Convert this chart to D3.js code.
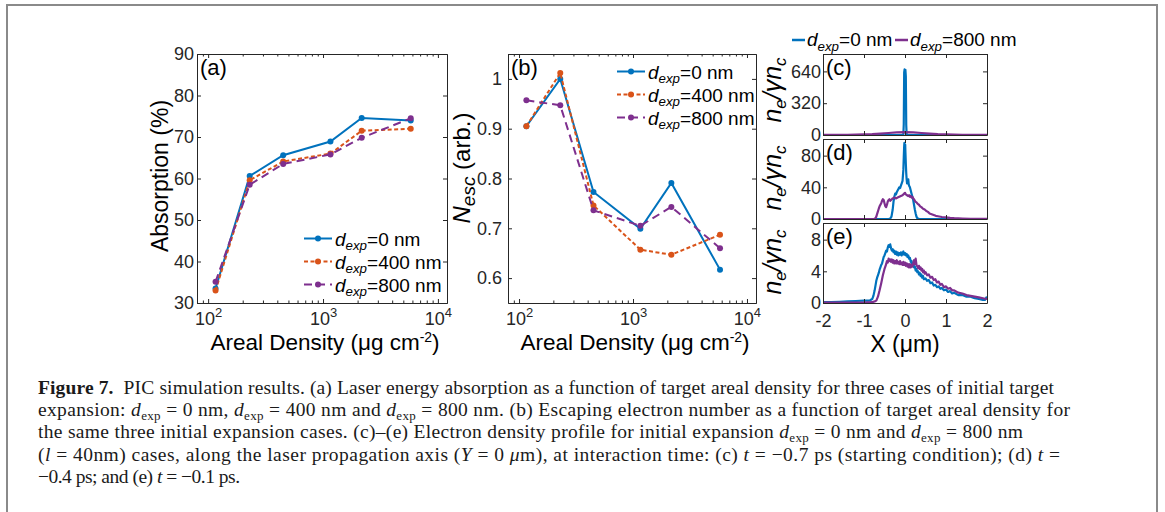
<!DOCTYPE html>
<html>
<head>
<meta charset="utf-8">
<script src="https://cdn.jsdelivr.net/npm/d3@7"></script>
<style>
  body { margin: 0; background: #fff; }
  svg { display: block; }
</style>
</head>
<body>
<svg id="fig" width="1165" height="512"></svg>
<script>
// values
const arealDensity = [116, 230, 450, 1160, 2170, 5800];
const absorption0 = [33.5, 60.6, 65.6, 68.9, 74.6, 74.0];
const absorption400 = [33.0, 59.6, 64.1, 66.0, 71.5, 72.0];
const absorption800 = [35.1, 58.5, 63.5, 65.8, 69.8, 74.5];
const nesc0 = [0.905, 1.0, 0.773, 0.699, 0.791, 0.617];
const nesc400 = [0.905, 1.012, 0.746, 0.657, 0.647, 0.687];
const nesc800 = [0.957, 0.947, 0.736, 0.705, 0.743, 0.660];
const caseNames = ['0', '400', '800'];
const caseColors = ['#0072BD', '#D95319', '#7E2F8E'];
const caseDash = [null, '4,2.5', '8,5'];

const absTicks = [30, 40, 50, 60, 70, 80, 90];
const nescTicks = [0.6, 0.7, 0.8, 0.9, 1];
const xProfileTicks = [-2, -1, 0, 1, 2];

// electron density profiles, [x (um), n_e / gamma n_c]
const profC0 = [[-2, 0], [-0.06, 0], [-0.04, 4], [-0.03, 110], [-0.02, 630], [-0.01, 660], [0, 650], [0.01, 655], [0.02, 590], [0.03, 100], [0.04, 4], [0.06, 0], [2, 0]];
const profC800 = [[-2, 0.5], [-1.6, 1.5], [-1.4, 2.5], [-1.2, 4], [-1, 6], [-0.8, 9], [-0.6, 14], [-0.4, 20], [-0.2, 26], [0, 29], [0.2, 26], [0.4, 20], [0.6, 14], [0.8, 9], [1, 6], [1.2, 4], [1.4, 2.5], [1.6, 1.5], [2, 0.5]];
const profD0 = [[-2, 0], [-0.4, 0], [-0.36, 0.5], [-0.33, 3], [-0.3, 12], [-0.28, 22], [-0.26, 28], [-0.24, 32], [-0.22, 31], [-0.2, 34], [-0.18, 36], [-0.16, 38], [-0.14, 40], [-0.12, 39], [-0.1, 42], [-0.08, 45], [-0.06, 48], [-0.05, 55], [-0.04, 62], [-0.03, 78], [-0.02, 92], [-0.015, 96], [-0.01, 88], [0, 90], [0.005, 94], [0.01, 85], [0.02, 70], [0.03, 58], [0.04, 50], [0.05, 45], [0.06, 48], [0.07, 46], [0.08, 50], [0.09, 44], [0.1, 42], [0.12, 40], [0.14, 36], [0.16, 32], [0.18, 28], [0.2, 24], [0.22, 18], [0.24, 12], [0.26, 7], [0.28, 3], [0.3, 1], [0.34, 0.3], [0.4, 0], [2, 0]];
const profD800 = [[-2, 0], [-0.75, 0], [-0.72, 1], [-0.7, 3], [-0.67, 8], [-0.64, 13], [-0.62, 16], [-0.6, 18], [-0.58, 20], [-0.56, 23], [-0.54, 25], [-0.52, 24], [-0.5, 20], [-0.48, 16], [-0.46, 15], [-0.44, 18], [-0.42, 22], [-0.4, 24], [-0.38, 25], [-0.36, 23], [-0.34, 24], [-0.32, 25], [-0.3, 26], [-0.26, 27], [-0.22, 26], [-0.18, 27], [-0.14, 28], [-0.1, 29], [-0.06, 30], [-0.02, 32], [0, 33], [0.02, 31], [0.05, 30], [0.08, 29], [0.1, 30], [0.12, 28], [0.14, 29], [0.16, 27], [0.18, 28], [0.2, 26], [0.22, 25], [0.25, 22], [0.28, 21], [0.31, 19], [0.34, 18], [0.37, 16], [0.4, 15], [0.44, 13], [0.48, 12], [0.52, 10], [0.56, 9], [0.6, 7], [0.65, 6], [0.7, 5], [0.75, 4], [0.8, 3.5], [0.9, 2.5], [1.0, 2], [1.1, 1.4], [1.2, 1], [1.4, 0.6], [1.6, 0.3], [1.8, 0.2], [2, 0.1]];
const profE0 = [[-2, 0.1], [-1.8, 0.1], [-1.6, 0.15], [-1.4, 0.2], [-1.2, 0.25], [-1.0, 0.3], [-0.9, 0.3], [-0.85, 0.35], [-0.8, 0.5], [-0.77, 0.9], [-0.74, 1.6], [-0.72, 2.2], [-0.7, 2.8], [-0.68, 3.2], [-0.66, 3.5], [-0.64, 3.8], [-0.62, 4.2], [-0.6, 4.5], [-0.58, 4.8], [-0.56, 5.0], [-0.54, 5.4], [-0.52, 5.8], [-0.5, 6.0], [-0.48, 6.3], [-0.46, 6.6], [-0.44, 6.5], [-0.42, 7.0], [-0.4, 7.3], [-0.38, 7.1], [-0.36, 7.4], [-0.34, 6.9], [-0.32, 6.6], [-0.3, 6.8], [-0.28, 6.4], [-0.26, 6.6], [-0.24, 6.2], [-0.22, 6.5], [-0.2, 6.1], [-0.18, 6.4], [-0.16, 6.0], [-0.14, 6.3], [-0.12, 6.1], [-0.1, 6.4], [-0.08, 6.0], [-0.06, 6.3], [-0.04, 6.5], [-0.02, 6.1], [0, 6.3], [0.02, 6.0], [0.04, 6.2], [0.06, 5.8], [0.08, 6.0], [0.1, 5.6], [0.12, 5.7], [0.14, 5.2], [0.16, 5.3], [0.18, 4.8], [0.2, 5.0], [0.22, 4.5], [0.24, 4.6], [0.26, 4.1], [0.28, 4.3], [0.3, 3.9], [0.32, 4.0], [0.34, 3.6], [0.36, 3.8], [0.38, 3.4], [0.4, 3.6], [0.42, 3.2], [0.44, 3.4], [0.46, 3.0], [0.5, 3.1], [0.54, 2.8], [0.58, 2.9], [0.62, 2.5], [0.66, 2.6], [0.7, 2.2], [0.74, 2.3], [0.78, 2.0], [0.82, 2.1], [0.86, 1.8], [0.9, 1.9], [0.95, 1.6], [1.0, 1.7], [1.05, 1.4], [1.1, 1.5], [1.15, 1.2], [1.2, 1.3], [1.3, 1.0], [1.4, 1.0], [1.5, 0.8], [1.6, 0.8], [1.7, 0.6], [1.8, 0.5], [1.9, 0.4], [1.95, 0.4], [2, 0.8]];
const profE800 = [[-2, 0.05], [-1.5, 0.05], [-1.0, 0.05], [-0.8, 0.1], [-0.74, 0.2], [-0.7, 0.3], [-0.66, 0.8], [-0.62, 1.6], [-0.58, 2.5], [-0.54, 3.5], [-0.5, 4.3], [-0.48, 4.6], [-0.46, 4.9], [-0.44, 5.3], [-0.42, 5.1], [-0.4, 5.6], [-0.38, 5.3], [-0.36, 5.5], [-0.34, 5.2], [-0.32, 5.5], [-0.3, 5.1], [-0.28, 5.4], [-0.26, 5.0], [-0.24, 5.3], [-0.22, 5.0], [-0.2, 5.4], [-0.18, 5.0], [-0.16, 5.2], [-0.14, 4.9], [-0.12, 5.3], [-0.1, 4.9], [-0.08, 5.1], [-0.06, 4.8], [-0.04, 5.2], [-0.02, 4.8], [0, 5.1], [0.02, 4.7], [0.04, 5.0], [0.06, 4.6], [0.08, 4.9], [0.1, 4.5], [0.12, 4.9], [0.14, 4.5], [0.16, 4.8], [0.18, 4.6], [0.2, 5.0], [0.22, 5.4], [0.24, 4.9], [0.26, 5.6], [0.28, 4.8], [0.3, 4.6], [0.32, 4.4], [0.34, 4.7], [0.36, 4.3], [0.38, 4.5], [0.4, 4.1], [0.42, 4.3], [0.44, 3.9], [0.46, 4.1], [0.48, 3.7], [0.5, 3.9], [0.54, 3.5], [0.58, 3.6], [0.62, 3.2], [0.66, 3.3], [0.7, 2.9], [0.74, 3.0], [0.78, 2.6], [0.82, 2.7], [0.86, 2.3], [0.9, 2.4], [0.95, 2.0], [1.0, 2.1], [1.05, 1.8], [1.1, 1.9], [1.15, 1.6], [1.2, 1.6], [1.3, 1.3], [1.4, 1.2], [1.5, 1.0], [1.6, 0.9], [1.7, 0.8], [1.8, 0.7], [1.9, 0.6], [2, 0.5]];

// caption: [text, style] segments per line
const captionLines = [
  [['Figure 7.', 'b'], ['  PIC simulation results. (a) Laser energy absorption as a function of target areal density for three cases of initial target', '']],
  [['expansion: ', ''], ['d', 'i'], ['exp', 's'], [' = 0 nm, ', ''], ['d', 'i'], ['exp', 's'], [' = 400 nm and ', ''], ['d', 'i'], ['exp', 's'], [' = 800 nm. (b) Escaping electron number as a function of target areal density for', '']],
  [['the same three initial expansion cases. (c)\u2013(e) Electron density profile for initial expansion ', ''], ['d', 'i'], ['exp', 's'], [' = 0 nm and ', ''], ['d', 'i'], ['exp', 's'], [' = 800 nm', '']],
  [['(', ''], ['l', 'i'], [' = 40nm) cases, along the laser propagation axis (', ''], ['Y', 'i'], [' = 0 ', ''], ['\u03bc', 'i'], ['m), at interaction time: (c) ', ''], ['t', 'i'], [' = \u22120.7 ps (starting condition); (d) ', ''], ['t', 'i'], [' =', '']],
  [['\u22120.4 ps; and (e) ', ''], ['t', 'i'], [' = \u22120.1 ps.', '']]
];
const captionWidths = [1016, 1032, 985, 1022, 202];

const svg = d3.select('#fig');
const FONT = '"Liberation Sans", Arial, sans-serif';
const SERIF = '"Liberation Serif", "Times New Roman", serif';
const INK = '#262626';
const TICK_FS = 18;

// outer frame
svg.append('rect').attr('x', 7).attr('y', 5).attr('width', 1150).attr('height', 540)
  .attr('fill', 'none').attr('stroke', '#8a8a8a').attr('stroke-width', 2);

function addAxis(gen, tx, ty, size, values, fmt) {
  const a = svg.append('g').attr('transform', `translate(${tx},${ty})`)
    .call(gen.tickValues(values).tickSize(size).tickSizeOuter(0).tickFormat(fmt || ''));
  a.select('.domain').attr('stroke', INK).attr('stroke-width', 1);
  a.selectAll('.tick line').attr('stroke', INK);
  a.selectAll('text').attr('fill', INK).attr('font-size', TICK_FS).attr('font-family', FONT);
  return a;
}

function dexpText(sel, x, y, size, value) {
  const t = sel.append('text').attr('x', x).attr('y', y).attr('font-family', FONT)
    .attr('font-size', size).attr('fill', '#000');
  t.append('tspan').attr('font-style', 'italic').text('d');
  t.append('tspan').attr('font-style', 'italic').attr('font-size', size * 0.7).attr('dy', size * 0.25).text('exp');
  t.append('tspan').attr('dy', -size * 0.25).text('=' + value + ' nm');
  return t;
}

// ---- panels (a) and (b): log areal density ----
function logPanel(x0, x1, y0, y1, yDomain, yTicks, yFmt, yPad, series, letter, legendX, legendY) {
  const x = d3.scaleLog().domain([80, 12000]).range([x0, x1]);
  const y = d3.scaleLinear().domain(yDomain).range([y1, y0]);
  const minor = x.ticks().filter(v => [100, 1000, 10000].indexOf(v) < 0 && v >= 80);
  const major = [100, 1000, 10000];

  addAxis(d3.axisBottom(x), 0, y1, -2.5, minor);
  addAxis(d3.axisTop(x), 0, y0, -2.5, minor);
  addAxis(d3.axisTop(x), 0, y0, -4, major);
  const bx = addAxis(d3.axisBottom(x).tickPadding(9), 0, y1, -4, major, d => d);
  bx.selectAll('.tick text').attr('dy', '0.71em').each(function (d) {
    const t = d3.select(this);
    t.text('10');
    t.append('tspan').attr('font-size', 13).attr('dy', -8).text(Math.round(Math.log10(d)));
  });
  addAxis(d3.axisLeft(y).tickPadding(yPad), x0, 0, -4, yTicks, yFmt);
  addAxis(d3.axisRight(y), x1, 0, -4, yTicks);

  series.forEach((vals, i) => {
    const line = d3.line().x((d, k) => x(arealDensity[k])).y(d => y(d));
    svg.append('path').datum(vals).attr('d', line).attr('fill', 'none')
      .attr('stroke', caseColors[i]).attr('stroke-width', 2)
      .attr('stroke-dasharray', caseDash[i]);
    svg.append('g').selectAll('circle').data(vals).join('circle')
      .attr('cx', (d, k) => x(arealDensity[k])).attr('cy', d => y(d)).attr('r', 3)
      .attr('fill', caseColors[i]);
  });

  svg.append('text').attr('x', x0 + 3).attr('y', y0 + 21).attr('font-family', FONT)
    .attr('font-size', 22).attr('fill', '#000').text('(' + letter + ')');

  caseNames.forEach((nm, i) => {
    const ly = legendY[i];
    svg.append('line').attr('x1', legendX).attr('x2', legendX + 28).attr('y1', ly).attr('y2', ly)
      .attr('stroke', caseColors[i]).attr('stroke-width', 2).attr('stroke-dasharray', caseDash[i]);
    svg.append('circle').attr('cx', legendX + 14).attr('cy', ly).attr('r', 3).attr('fill', caseColors[i]);
    dexpText(svg, legendX + 31, ly + 7, 19, nm);
  });

  const xl = svg.append('text').attr('x', (x0 + x1) / 2 + 3).attr('y', 350).attr('text-anchor', 'middle')
    .attr('font-family', FONT).attr('font-size', 22.5).attr('fill', '#000');
  xl.append('tspan').text('Areal Density (\u03bcg cm');
  xl.append('tspan').attr('font-size', 14).attr('dy', -8).text('-2');
  xl.append('tspan').attr('dy', 8).text(')');
  return { x, y };
}

logPanel(197, 447, 54, 303, [30, 90], absTicks, d3.format('d'), 3,
  [absorption0, absorption400, absorption800], 'a', 304, [238.5, 261.5, 284.5]);
logPanel(508, 756, 54, 303, [0.55, 1.05], nescTicks, d => (d === 1 ? '1' : d3.format('.1f')(d)), 6,
  [nesc0, nesc400, nesc800], 'b', 617, [71.5, 94.5, 117.5]);

// y labels of (a) and (b)
svg.append('text').attr('transform', 'translate(168,176) rotate(-90)').attr('text-anchor', 'middle')
  .attr('font-family', FONT).attr('font-size', 23).attr('fill', '#000').text('Absorption (%)');
const nl = svg.append('text').attr('transform', 'translate(470,168) rotate(-90)').attr('text-anchor', 'middle')
  .attr('font-family', FONT).attr('font-size', 24).attr('fill', '#000');
nl.append('tspan').attr('font-style', 'italic').text('N');
nl.append('tspan').attr('font-style', 'italic').attr('font-size', 19).attr('dy', 5).text('esc');
nl.append('tspan').attr('dy', -5).text(' (arb.)');

// ---- panels (c)-(e): density profiles ----
const px0 = 823, px1 = 987;
const xp = d3.scaleLinear().domain([-2, 2]).range([px0, px1]);
const profPanels = [
  { y0: 54, y1: 135, ymax: 815, ticks: [0, 320, 640], letter: 'c', data: [profC0, profC800], labelY: 90 },
  { y0: 139, y1: 219, ymax: 101, ticks: [0, 40, 80], letter: 'd', data: [profD0, profD800], labelY: 178 },
  { y0: 223, y1: 303, ymax: 10.1, ticks: [0, 4, 8], letter: 'e', data: [profE0, profE800], labelY: 262 }
];
const profColors = [caseColors[0], caseColors[2]];

profPanels.forEach((p, pi) => {
  const y = d3.scaleLinear().domain([0, p.ymax]).range([p.y1, p.y0]);
  const clipId = 'clip' + p.letter;
  svg.append('clipPath').attr('id', clipId).append('rect')
    .attr('x', px0).attr('y', p.y0).attr('width', px1 - px0).attr('height', p.y1 - p.y0);
  const line = d3.line().x(d => xp(d[0])).y(d => y(d[1]));
  p.data.forEach((arr, i) => {
    svg.append('path').datum(arr).attr('d', line).attr('fill', 'none')
      .attr('stroke', profColors[i]).attr('stroke-width', 2.2).attr('stroke-linejoin', 'round')
      .attr('clip-path', `url(#${clipId})`);
  });
  const last = pi === profPanels.length - 1;
  const bx = addAxis(d3.axisBottom(xp).tickPadding(11), 0, p.y1, -4, xProfileTicks, last ? d => (d < 0 ? '-' + Math.abs(d) : d) : null);
  bx.selectAll('.tick text').attr('dy', '0.71em');
  addAxis(d3.axisTop(xp), 0, p.y0, -4, xProfileTicks);
  addAxis(d3.axisLeft(y).tickPadding(2), px0, 0, -4, p.ticks, d3.format('d'));
  addAxis(d3.axisRight(y), px1, 0, -4, p.ticks);

  svg.append('text').attr('x', px0 + 3).attr('y', p.y0 + 21).attr('font-family', FONT)
    .attr('font-size', 22).attr('fill', '#000').text('(' + p.letter + ')');

  const yl = svg.append('text').attr('transform', `translate(781,${p.labelY}) rotate(-90)`)
    .attr('text-anchor', 'middle').attr('font-family', FONT).attr('font-size', 25)
    .attr('font-style', 'italic').attr('fill', '#000');
  yl.append('tspan').text('n');
  yl.append('tspan').attr('font-size', 17).attr('dy', 5).text('e');
  yl.append('tspan').attr('dy', -5).text('/\u03b3n');
  yl.append('tspan').attr('font-size', 17).attr('dy', 5).text('c');
});

svg.append('text').attr('x', (px0 + px1) / 2).attr('y', 352).attr('text-anchor', 'middle')
  .attr('font-family', FONT).attr('font-size', 23).attr('fill', '#000').text('X (\u03bcm)');

// legend above (c)
[[792, '0'], [895, '800']].forEach(([lx, nm], i) => {
  svg.append('line').attr('x1', lx).attr('x2', lx + 13).attr('y1', 40).attr('y2', 40)
    .attr('stroke', profColors[i]).attr('stroke-width', 2.5);
  dexpText(svg, lx + 15, 46, 19, nm);
});

// ---- caption ----
const cap = svg.append('g').attr('font-family', SERIF).attr('font-size', 19.5).attr('fill', '#1a1a1a');
captionLines.forEach((segs, li) => {
  const t = cap.append('text').attr('x', 38).attr('y', 394 + li * 22.2).attr('xml:space', 'preserve');
  segs.forEach(([txt, st]) => {
    const s = t.append('tspan').text(txt);
    if (st === 'b') s.attr('font-weight', 'bold');
    if (st === 'i') s.attr('font-style', 'italic');
    if (st === 's') s.attr('font-size', 13).attr('dy', 4);
  });
  // undo subscript shifts: the tspan after a subscript moves back up
  t.selectAll('tspan').each(function (d, k, nodes) {
    if (k > 0 && d3.select(nodes[k - 1]).attr('dy') === '4') d3.select(this).attr('dy', -4);
  });
  if (captionWidths[li]) t.attr('textLength', captionWidths[li]).attr('lengthAdjust', 'spacing');
});
</script>
</body>
</html>
